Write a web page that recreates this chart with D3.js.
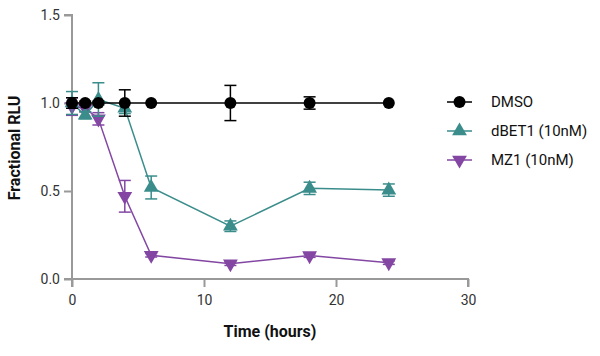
<!DOCTYPE html>
<html>
<head>
<meta charset="utf-8">
<script src="https://cdn.jsdelivr.net/npm/d3@7"></script>
<style>
body { margin: 0; background: #fff; }
svg { display: block; font-family: Roboto, "Noto Sans", sans-serif; }
</style>
</head>
<body>
<svg id="chart" width="600" height="356"></svg>
<script>
const times = [0, 1, 2, 4, 6, 12, 18, 24];
const seriesNames = ["DMSO", "dBET1 (10nM)", "MZ1 (10nM)"];
const dmsoMean = [1.0, 1.0, 1.0, 1.0, 1.0, 1.0, 1.0, 1.0];
const dmsoErr  = [0.03, 0.01, 0.01, 0.075, 0.0, 0.10, 0.035, 0.0];
const dbetMean = [1.0, 0.93, 1.02, 0.97, 0.52, 0.30, 0.515, 0.505];
const dbetErr  = [0.065, 0.02, 0.095, 0.03, 0.065, 0.03, 0.035, 0.035];
const mz1Mean  = [0.98, 0.97, 0.91, 0.47, 0.135, 0.087, 0.133, 0.093];
const mz1Err   = [0.05, 0.02, 0.035, 0.09, 0.01, 0.01, 0.01, 0.01];
const xTicks = [0, 10, 20, 30];
const yTicks = [0.0, 0.5, 1.0, 1.5];
const colors = ["#000000", "#3a8d8b", "#8347a3"];

const series = [
  { name: seriesNames[0], mean: dmsoMean, err: dmsoErr, color: colors[0], symbol: "circle" },
  { name: seriesNames[1], mean: dbetMean, err: dbetErr, color: colors[1], symbol: "up" },
  { name: seriesNames[2], mean: mz1Mean, err: mz1Err, color: colors[2], symbol: "down" }
];

const svg = d3.select("#chart");
const x = d3.scaleLinear().domain([0, 30]).range([72, 468]);
const y = d3.scaleLinear().domain([0, 1.5]).range([279, 15]);

const axisColor = "#999999";
const tickText = "#333333";

const yAxis = svg.append("g").attr("transform", `translate(${x(0)},0)`)
  .call(d3.axisLeft(y).tickValues(yTicks).tickFormat(d3.format(".1f")).tickSize(8).tickPadding(4));
const xAxis = svg.append("g").attr("transform", `translate(0,${y(0)})`)
  .call(d3.axisBottom(x).tickValues(xTicks).tickFormat(d3.format("d")).tickSize(8).tickPadding(8));
[yAxis, xAxis].forEach(g => {
  g.select(".domain").attr("stroke", axisColor).attr("stroke-width", 2);
  g.selectAll(".tick line").attr("stroke", axisColor).attr("stroke-width", 2);
  g.selectAll(".tick text").attr("fill", tickText).attr("font-size", 14).attr("font-family", "Roboto, sans-serif");
});
yAxis.select(".domain").attr("d", `M-8,${y(1.5)}H0V${y(0)}H-8`);
xAxis.select(".domain").attr("d", `M${x(0)},8V0H${x(30)}V8`);

svg.append("text").attr("x", 270).attr("y", 337).attr("text-anchor", "middle")
  .attr("font-size", 16).attr("font-weight", "bold").attr("fill", "#111").text("Time (hours)");
svg.append("text").attr("transform", "translate(20,148) rotate(-90)").attr("text-anchor", "middle")
  .attr("font-size", 16).attr("font-weight", "bold").attr("fill", "#111").text("Fractional RLU");

function symPath(kind) {
  if (kind === "circle") return d3.symbol().type(d3.symbolCircle).size(Math.PI * 36)();
  return d3.symbol().type(d3.symbolTriangle).size(95)();
}
function drawSymbol(g, kind, cx, cy, color) {
  g.append("path").attr("d", symPath(kind))
    .attr("transform", `translate(${cx},${cy})` + (kind === "down" ? " rotate(180)" : ""))
    .attr("fill", color);
}

const line = d3.line().x(d => x(d[0])).y(d => y(d[1]));

[2, 1, 0].forEach(si => {
  const s = series[si];
  const g = svg.append("g");
  const pts = times.map((t, i) => [t, s.mean[i], s.err[i]]);
  pts.forEach(p => {
    if (p[2] <= 0) return;
    const cx = x(p[0]), y1 = y(p[1] + p[2]), y2 = y(p[1] - p[2]);
    g.append("line").attr("x1", cx).attr("x2", cx).attr("y1", y1).attr("y2", y2)
      .attr("stroke", s.color).attr("stroke-width", 1.5);
    [y1, y2].forEach(yy => g.append("line").attr("x1", cx - 6).attr("x2", cx + 6)
      .attr("y1", yy).attr("y2", yy).attr("stroke", s.color).attr("stroke-width", 1.5));
  });
  g.append("path").datum(pts).attr("d", line).attr("fill", "none")
    .attr("stroke", s.color).attr("stroke-width", 1.5);
  pts.forEach(p => drawSymbol(g, s.symbol, x(p[0]), y(p[1]), s.color));
});

const legY = [102, 131, 160];
series.forEach((s, i) => {
  const g = svg.append("g").attr("transform", `translate(0,${legY[i]})`);
  g.append("line").attr("x1", 447).attr("x2", 472).attr("y1", 0).attr("y2", 0)
    .attr("stroke", s.color).attr("stroke-width", 1.5);
  drawSymbol(g, s.symbol, 459.5, 0, s.color);
  g.append("text").attr("x", 491).attr("y", 0).attr("dy", "0.35em")
    .attr("font-size", 15).attr("fill", "#111").text(s.name);
});
</script>
</body>
</html>
